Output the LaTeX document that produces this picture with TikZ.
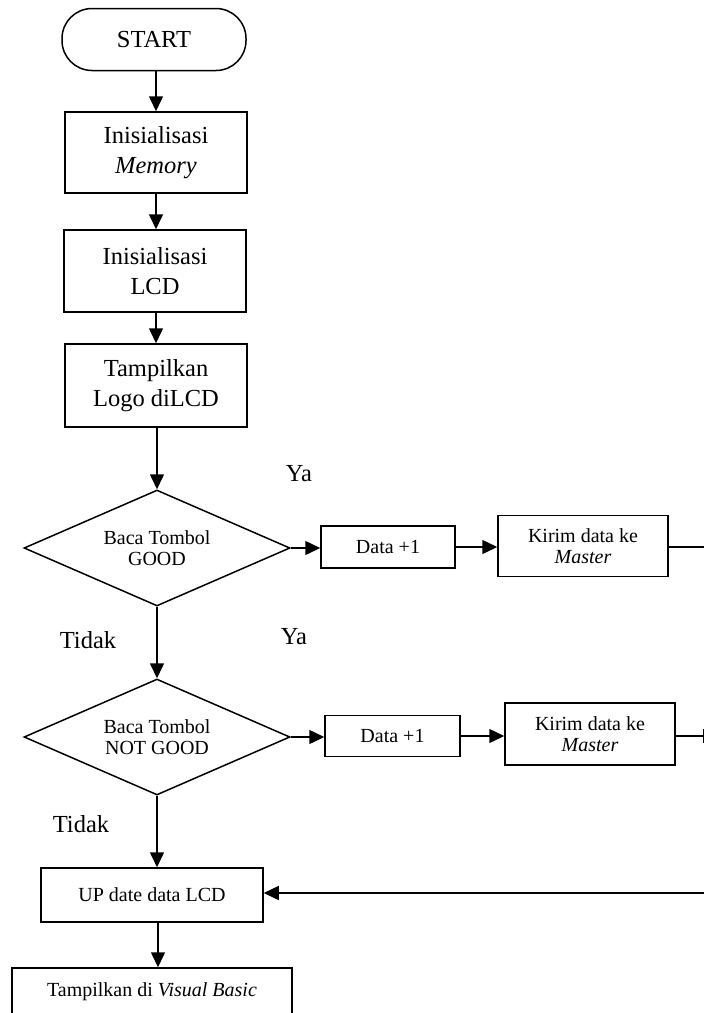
\documentclass[tikz,border=0pt]{standalone}
\usepackage{fontspec}
\setmainfont{Liberation Serif}
\usetikzlibrary{shapes.geometric,arrows.meta}
\begin{document}
\begin{tikzpicture}[x=1pt,y=-1pt,
  big/.style={font=\fontsize{24.5}{29.5}\selectfont},
  small/.style={font=\fontsize{20}{21}\selectfont},
  every node/.style={align=center, inner sep=0pt},
  procbox/.style={draw, line width=1.5pt},
  decision/.style={draw, diamond, aspect=2.3, line width=1.5pt, small,
    minimum width=266pt, minimum height=116pt},
  flow/.style={line width=1.5pt, -{Triangle[length=15pt,width=14pt]}},
  plain/.style={line width=1.5pt}]
\useasboundingbox (0,0) rectangle (704,1013);
\clip (0,0) rectangle (704,1013);

% main column
\node[procbox, big, rounded corners=30pt, minimum width=184pt, minimum height=62pt]
  (start) at (154,39.5) {START};
\node[procbox, big, minimum width=182pt, minimum height=81pt]
  (mem) at (156,152.5) {Inisialisasi\\\textit{Memory}};
\node[procbox, big, minimum width=182pt, minimum height=82pt]
  (lcd) at (155,271) {Inisialisasi\\LCD};
\node[procbox, big, minimum width=182pt, minimum height=83pt]
  (logo) at (156,385.5) {Tampilkan\\Logo diLCD};
\node[decision] (good) at (157,548) {Baca Tombol\\GOOD};
\node[decision] (ngood) at (157,737) {Baca Tombol\\NOT GOOD};
\node[procbox, small, minimum width=222pt, minimum height=54pt]
  (upd) at (152,895) {UP date data LCD};
\node[procbox, small, minimum width=280pt, minimum height=48pt]
  (vb) at (152,992) {Tampilkan di \textit{Visual Basic}};

% GOOD branch
\node[procbox, small, minimum width=134pt, minimum height=42pt]
  (inc1) at (388,547) {Data +1};
\node[procbox, small, minimum width=170pt, minimum height=61pt]
  (send1) at (583,546) {Kirim data ke\\\textit{Master}};
% NOT GOOD branch
\node[procbox, small, minimum width=135pt, minimum height=41pt]
  (inc2) at (392.5,736) {Data +1};
\node[procbox, small, minimum width=170pt, minimum height=62pt]
  (send2) at (590,734) {Kirim data ke\\\textit{Master}};

% branch labels
\node[big] (ya1) at (299,474) {Ya};
\node[big] (tidak1) at (88,640) {Tidak};
\node[big] (ya2) at (294,637) {Ya};
\node[big] (tidak2) at (81,824) {Tidak};

% return rail along the right edge
\coordinate (r1) at (718,547);
\coordinate (r2) at (718,736);
\coordinate (r3) at (718,893);

% connectors
\draw[flow] ([xshift=2pt]start.south) -- ([xshift=2pt]start.south |- mem.north);
\draw[flow] (mem.south) -- (mem.south |- lcd.north);
\draw[flow] ([xshift=1pt]lcd.south) -- ([xshift=1pt]lcd.south |- logo.north);
\draw[flow] ([xshift=1pt]logo.south) -- (good.north);
\draw[flow] (good.south) -- (ngood.north);
\draw[flow] (ngood.south) -- (ngood.south |- upd.north);
\draw[flow] ([xshift=6pt]upd.south) -- ([xshift=6pt]upd.south |- vb.north);

\draw[flow] (good.east) -- (inc1.west |- good.east);
\draw[flow] (inc1.east) -- (send1.west |- inc1.east);
\draw[flow] (ngood.east) -- (inc2.west |- ngood.east);
\draw[flow] (inc2.east) -- (send2.west |- inc2.east);

\draw[plain] (send1.east |- r1) -- (r1) -- (r3);
\draw[flow] (send2.east |- r2) -- (r2);
\draw[flow] (r3) -- (upd.east |- r3);
\end{tikzpicture}
\end{document}
